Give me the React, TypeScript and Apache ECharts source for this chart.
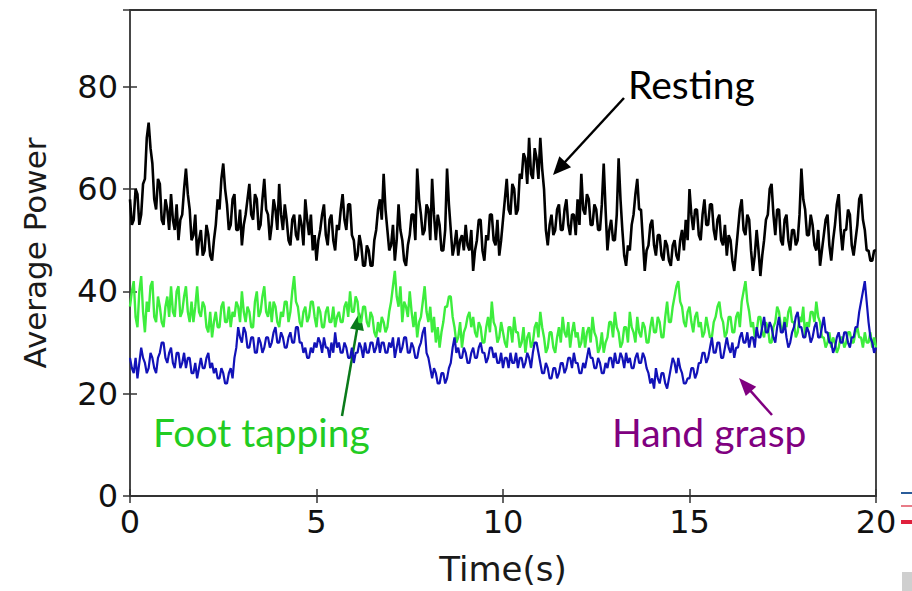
import React, { useEffect, useRef } from "react";
import * as echarts from "echarts";

// Average power traces sampled every 0.05 s over 20 s (one row = 1 s)
const timeStep = 0.05;

const resting = [
  58, 53, 54, 60, 59, 53, 55, 61, 62, 70, 73, 68, 65, 58, 56, 62, 61, 54, 53, 58,
  56, 52, 59, 54, 52, 57, 50, 54, 55, 60, 64, 59, 56, 50, 51, 55, 47, 50, 52, 47,
  48, 53, 51, 47, 46, 50, 53, 58, 56, 62, 65, 60, 57, 52, 53, 58, 59, 52, 52, 56,
  49, 53, 55, 58, 61, 55, 54, 59, 58, 52, 53, 58, 62, 56, 55, 50, 53, 58, 56, 52,
  61, 55, 52, 57, 54, 50, 49, 54, 55, 51, 50, 55, 53, 49, 58, 54, 51, 55, 48, 51,
  46, 50, 52, 55, 57, 51, 49, 54, 55, 50, 48, 53, 52, 56, 59, 54, 52, 57, 57, 51,
  50, 46, 47, 51, 49, 45, 45, 49, 48, 45, 45, 50, 52, 56, 58, 54, 63, 56, 52, 48,
  49, 53, 46, 50, 57, 52, 50, 46, 45, 49, 51, 55, 55, 50, 64, 58, 55, 51, 52, 57,
  56, 50, 62, 55, 50, 55, 53, 48, 48, 52, 64, 57, 52, 47, 49, 52, 47, 50, 51, 48,
  53, 49, 48, 52, 44, 48, 50, 54, 54, 48, 46, 51, 50, 55, 55, 50, 49, 54, 47, 50,
  54, 58, 62, 56, 55, 61, 60, 55, 56, 63, 62, 67, 66, 61, 70, 63, 62, 68, 66, 62,
  70, 64, 60, 52, 49, 53, 55, 51, 52, 56, 57, 52, 52, 56, 58, 53, 51, 55, 55, 51,
  58, 53, 63, 56, 55, 59, 58, 53, 53, 57, 56, 52, 52, 57, 65, 56, 48, 52, 54, 50,
  50, 55, 66, 58, 52, 47, 45, 49, 48, 53, 55, 59, 62, 56, 56, 50, 44, 48, 49, 53,
  54, 49, 47, 51, 51, 47, 46, 50, 49, 46, 45, 49, 50, 47, 46, 50, 52, 48, 54, 50,
  60, 55, 52, 56, 56, 51, 50, 55, 58, 53, 53, 57, 57, 52, 50, 54, 55, 50, 49, 53,
  47, 51, 50, 46, 44, 48, 52, 56, 58, 52, 51, 55, 54, 48, 44, 47, 52, 48, 43, 47,
  50, 54, 55, 60, 61, 55, 51, 56, 56, 50, 49, 54, 55, 50, 48, 52, 52, 49, 50, 55,
  64, 58, 56, 51, 51, 55, 53, 49, 48, 52, 45, 48, 51, 54, 55, 49, 46, 50, 53, 57,
  59, 52, 48, 52, 52, 56, 55, 49, 47, 50, 53, 58, 59, 54, 52, 48, 48, 46, 46, 48,
  48,
];

const footTapping = [
  37, 40, 42, 35, 33, 40, 43, 36, 32, 38, 36, 41, 42, 35, 34, 39, 37, 34, 33, 37,
  39, 35, 41, 36, 35, 40, 41, 35, 36, 39, 41, 36, 34, 38, 34, 37, 41, 36, 35, 38,
  37, 33, 32, 36, 31, 34, 36, 33, 33, 37, 38, 34, 34, 37, 33, 36, 35, 38, 37, 34,
  40, 36, 34, 37, 36, 33, 33, 38, 40, 35, 36, 39, 41, 36, 35, 38, 34, 38, 37, 34,
  33, 36, 35, 38, 38, 34, 36, 40, 43, 38, 37, 34, 33, 36, 37, 34, 35, 38, 38, 35,
  33, 37, 36, 33, 33, 36, 37, 34, 34, 37, 33, 35, 36, 34, 34, 37, 38, 35, 40, 36,
  36, 39, 38, 34, 34, 37, 37, 34, 33, 36, 35, 32, 31, 34, 32, 35, 34, 32, 33, 36,
  38, 41, 44, 39, 37, 41, 34, 38, 37, 35, 40, 36, 33, 36, 31, 34, 35, 38, 41, 36,
  34, 37, 32, 35, 30, 33, 29, 32, 34, 37, 37, 39, 39, 35, 33, 30, 31, 34, 29, 32,
  33, 35, 36, 33, 35, 32, 31, 34, 33, 30, 30, 33, 35, 32, 38, 34, 33, 30, 31, 34,
  32, 30, 29, 33, 33, 30, 35, 32, 32, 29, 30, 33, 28, 31, 32, 29, 30, 33, 34, 31,
  36, 33, 31, 28, 29, 32, 32, 29, 28, 31, 33, 30, 35, 32, 31, 34, 29, 32, 34, 31,
  32, 29, 30, 33, 29, 32, 33, 30, 35, 32, 31, 28, 29, 32, 28, 30, 31, 34, 34, 31,
  36, 33, 32, 29, 30, 33, 33, 30, 36, 33, 32, 30, 35, 32, 31, 34, 33, 30, 30, 33,
  35, 32, 32, 35, 34, 31, 31, 35, 38, 34, 34, 37, 39, 41, 42, 38, 37, 34, 33, 36,
  37, 34, 32, 35, 36, 33, 34, 31, 32, 35, 33, 31, 31, 34, 35, 37, 38, 35, 34, 31,
  32, 35, 35, 32, 32, 35, 36, 33, 38, 40, 42, 38, 36, 33, 34, 31, 32, 35, 35, 32,
  31, 34, 33, 30, 30, 33, 34, 37, 36, 33, 32, 35, 33, 36, 37, 34, 34, 31, 32, 35,
  34, 37, 31, 34, 33, 36, 36, 34, 38, 35, 34, 31, 31, 29, 30, 32, 29, 31, 30, 28,
  29, 31, 31, 29, 30, 32, 32, 30, 30, 32, 33, 31, 31, 29, 32, 30, 30, 32, 29, 31,
  29,
];

const handGrasp = [
  27, 25, 24, 27, 23, 26, 29, 27, 26, 24, 25, 28, 27, 25, 24, 27, 28, 30, 30, 27,
  26, 28, 29, 26, 25, 28, 28, 25, 26, 28, 25, 27, 27, 24, 24, 26, 23, 25, 27, 25,
  25, 27, 28, 25, 26, 24, 25, 23, 23, 25, 24, 22, 22, 24, 25, 23, 27, 29, 33, 31,
  30, 33, 32, 29, 29, 31, 31, 28, 28, 31, 30, 28, 29, 31, 31, 29, 30, 32, 33, 30,
  30, 32, 31, 29, 29, 31, 32, 30, 30, 33, 33, 30, 30, 28, 29, 27, 27, 29, 28, 30,
  29, 31, 30, 28, 31, 29, 29, 27, 30, 28, 32, 29, 30, 28, 28, 30, 29, 27, 27, 29,
  26, 28, 28, 30, 29, 27, 30, 28, 28, 30, 30, 28, 29, 31, 28, 30, 30, 28, 28, 30,
  29, 31, 27, 29, 31, 28, 29, 31, 31, 28, 28, 30, 29, 27, 27, 29, 30, 32, 33, 28,
  27, 25, 23, 25, 24, 22, 22, 24, 24, 22, 23, 25, 26, 29, 31, 28, 29, 27, 27, 29,
  28, 26, 26, 28, 29, 27, 27, 29, 30, 28, 28, 26, 27, 29, 29, 27, 28, 26, 26, 28,
  25, 27, 27, 25, 28, 26, 26, 28, 25, 27, 27, 25, 26, 28, 27, 25, 28, 30, 30, 28,
  26, 24, 24, 26, 25, 23, 23, 25, 25, 23, 24, 26, 26, 24, 25, 27, 27, 25, 28, 26,
  26, 24, 24, 26, 25, 27, 29, 27, 27, 25, 25, 27, 26, 24, 24, 26, 25, 27, 27, 25,
  28, 26, 26, 28, 27, 25, 28, 26, 27, 25, 25, 27, 28, 26, 26, 28, 27, 25, 24, 22,
  23, 21, 25, 23, 22, 24, 24, 22, 21, 23, 25, 27, 26, 24, 27, 25, 24, 22, 22, 23,
  23, 25, 25, 23, 24, 26, 26, 28, 28, 26, 27, 29, 31, 28, 28, 30, 30, 27, 27, 29,
  31, 29, 28, 30, 27, 29, 29, 31, 32, 30, 30, 32, 29, 31, 31, 29, 33, 31, 31, 33,
  35, 32, 32, 34, 33, 31, 30, 33, 35, 32, 32, 34, 31, 29, 30, 32, 33, 35, 36, 33,
  33, 31, 31, 33, 32, 30, 31, 33, 34, 31, 31, 33, 35, 32, 32, 30, 30, 28, 29, 31,
  32, 30, 30, 32, 32, 30, 29, 31, 31, 33, 33, 36, 38, 40, 42, 38, 34, 31, 30, 28,
  29,
];

const xTicks = [0, 5, 10, 15, 20];
const yTicks = [0, 20, 40, 60, 80];
const xMax = 20;
const yMax = 95;

const axisFont = "DejaVu Sans";
const noteFont = "Lato, 'Open Sans', sans-serif";

function toPairs(values: number[]): number[][] {
  return values.map((v, i) => [Number((i * timeStep).toFixed(2)), v]);
}

// Straight arrow: shaft plus a filled triangular head at (x2, y2)
function arrow(
  x1: number, y1: number, x2: number, y2: number,
  color: string, width: number, headLen: number, headHalf: number
) {
  const dx = x2 - x1;
  const dy = y2 - y1;
  const len = Math.sqrt(dx * dx + dy * dy);
  const ux = dx / len;
  const uy = dy / len;
  const bx = x2 - ux * headLen;
  const by = y2 - uy * headLen;
  const px = -uy;
  const py = ux;
  return [
    {
      type: "line",
      shape: { x1, y1, x2: bx + ux * 2, y2: by + uy * 2 },
      style: { stroke: color, lineWidth: width },
      silent: true,
    },
    {
      type: "polygon",
      shape: {
        points: [
          [x2, y2],
          [bx + px * headHalf, by + py * headHalf],
          [bx - px * headHalf, by - py * headHalf],
        ],
      },
      style: { fill: color },
      silent: true,
    },
  ];
}

export default function App() {
  const ref = useRef<HTMLDivElement>(null);

  useEffect(() => {
    if (!ref.current) return;
    const chart = echarts.init(ref.current, undefined, { renderer: "svg" });

    const tickStyle = { show: true, inside: true, length: 7, lineStyle: { color: "#333", width: 1.5 } };
    const baseX = {
      type: "value" as const,
      min: 0,
      max: xMax,
      interval: 5,
      splitLine: { show: false },
      axisLine: { show: false },
      axisTick: tickStyle,
    };
    const baseY = {
      type: "value" as const,
      min: 0,
      max: yMax,
      interval: 20,
      splitLine: { show: false },
      axisLine: { show: false },
      axisTick: tickStyle,
    };

    const trace = (name: string, values: number[], color: string, width: number, z: number) => ({
      name,
      type: "line",
      data: toPairs(values),
      showSymbol: false,
      symbol: "none",
      lineStyle: { color, width },
      z,
    });

    chart.setOption({
      animation: false,
      backgroundColor: "#ffffff",
      grid: {
        left: 130,
        right: 36,
        top: 10,
        bottom: 90,
        show: true,
        borderColor: "#333",
        borderWidth: 1.8,
        backgroundColor: "transparent",
      },
      xAxis: [
        {
          ...baseX,
          position: "bottom",
          name: "Time(s)",
          nameLocation: "middle",
          nameGap: 56,
          nameTextStyle: { fontFamily: axisFont, fontSize: 34, color: "#1a1a1a" },
          axisLabel: {
            fontFamily: axisFont,
            fontSize: 32,
            color: "#111",
            margin: 10,
            formatter: (v: number) => (xTicks.includes(v) ? String(v) : ""),
          },
        },
        { ...baseX, position: "top", axisLabel: { show: false } },
      ],
      yAxis: [
        {
          ...baseY,
          position: "left",
          name: "Average Power",
          nameLocation: "middle",
          nameGap: 80,
          nameRotate: 90,
          nameTextStyle: { fontFamily: axisFont, fontSize: 31, color: "#1a1a1a" },
          axisLabel: {
            fontFamily: axisFont,
            fontSize: 32,
            color: "#111",
            margin: 12,
            showMaxLabel: false,
            formatter: (v: number) => (yTicks.includes(v) ? String(v) : ""),
          },
        },
        { ...baseY, position: "right", axisLabel: { show: false } },
      ],
      series: [
        trace("Resting", resting, "#000000", 2.6, 2),
        trace("Foot tapping", footTapping, "#3ded3d", 2.4, 3),
        trace("Hand grasp", handGrasp, "#1212b8", 2.2, 4),
      ],
      graphic: [
        {
          type: "text",
          x: 628,
          y: 84,
          style: { text: "Resting", font: `39px ${noteFont}`, fill: "#000", verticalAlign: "middle" },
        },
        ...arrow(624, 98, 553, 175, "#000", 2.5, 18, 8),
        {
          type: "text",
          x: 153,
          y: 432,
          style: { text: "Foot tapping", font: `39px ${noteFont}`, fill: "#22cc22", verticalAlign: "middle" },
        },
        ...arrow(342, 416, 360, 312, "#0a7a1a", 2.5, 18, 7),
        {
          type: "text",
          x: 612,
          y: 432,
          style: { text: "Hand grasp", font: `39px ${noteFont}`, fill: "#800080", verticalAlign: "middle" },
        },
        ...arrow(772, 415, 739, 378, "#800080", 2.5, 18, 7),
        // slide remnants at the right edge
        { type: "line", shape: { x1: 901, y1: 493, x2: 912, y2: 493 }, style: { stroke: "#2a5c9a", lineWidth: 2 } },
        { type: "line", shape: { x1: 901, y1: 506, x2: 912, y2: 506 }, style: { stroke: "#e05060", lineWidth: 1.5 } },
        { type: "line", shape: { x1: 901, y1: 522, x2: 912, y2: 522 }, style: { stroke: "#e0203c", lineWidth: 4 } },
        { type: "rect", shape: { x: 902, y: 572, width: 10, height: 19 }, style: { fill: "#cfcfcf" } },
      ],
    });

    return () => chart.dispose();
  }, []);

  return (
    <div
      ref={ref}
      style={{ position: "fixed", left: 0, top: 0, width: 912, height: 591, background: "#fff" }}
    />
  );
}
